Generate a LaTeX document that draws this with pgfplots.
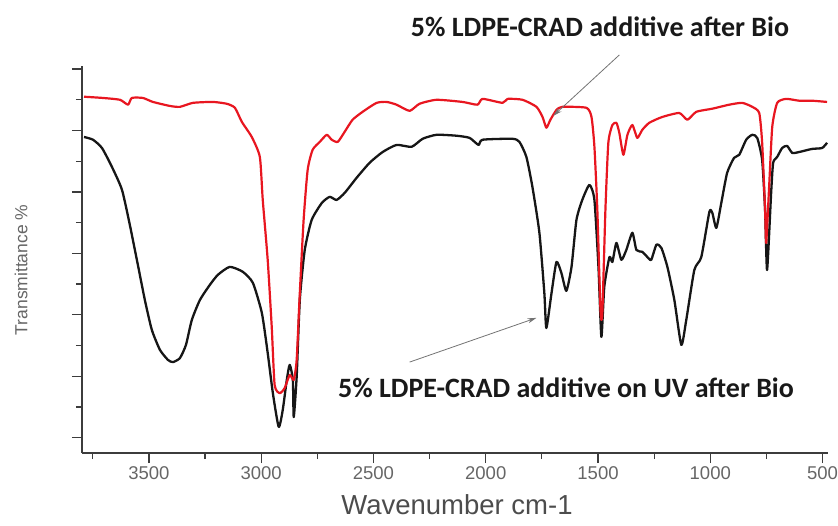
\documentclass[border=0pt]{standalone}
\usepackage{fontspec}
\setmainfont{Liberation Sans}
\newfontfamily\carlito{Carlito}
\usepackage{pgfplots}
\pgfplotsset{compat=1.18}
\usetikzlibrary{arrows.meta}
\definecolor{specred}{RGB}{232,22,32}
\definecolor{specblack}{RGB}{22,22,22}
\definecolor{axgray}{RGB}{60,60,60}
\begin{document}
\begin{tikzpicture}
\useasboundingbox (0pt,0pt) rectangle (838pt,-525pt);
\begin{axis}[
  at={(82pt,-453pt)}, anchor=south west,
  scale only axis, width=745.5pt, height=387pt,
  xmin=478, xmax=3798, ymin=0, ymax=126, x dir=reverse,
  axis x line=bottom, axis y line=left,
  axis line style={-, line width=1.4pt, color=axgray},
  xtick={500,1000,...,3500}, minor xtick={750,1250,...,3750},
  ytick={5,25,...,125}, yticklabels={}, minor ytick={15,35,...,115},
  tick align=outside,
  every tick/.style={line width=1.2pt, color=axgray},
  x tick style={line width=1.2pt, color=axgray},
  y tick style={line width=1.2pt, color=axgray},
  major tick length=10pt, minor tick length=6pt,
  /pgf/number format/assume math mode=true,
  /pgf/number format/1000 sep={},
  xticklabel style={font=\fontsize{18.5}{18.5}\selectfont, text=black!60},
  clip=false,
]
\addplot[specblack, line width=2.3pt, line join=round, smooth, tension=0.35] coordinates {
(3789,102.9) (3749,102.0) (3709,99.3) (3665,93.2) (3620,85.7) (3585,74.3)
(3549,61.2) (3518,49.8) (3487,40.1) (3451,33.6) (3415,30.3) (3393,29.6)
(3362,30.9) (3335,35.2) (3309,43.3) (3273,49.8) (3229,54.7) (3193,58.0)
(3140,60.6) (3082,59.0) (3037,55.4) (2997,45.6) (2971,32.6) (2948,19.5)
(2922,8.5) (2904,14.0) (2886,23.8) (2873,28.7) (2859,23.8) (2855,11.7)
(2842,24.8) (2828,49.8) (2806,66.1) (2775,75.9) (2730,81.4) (2695,83.4)
(2664,82.4) (2628,84.7) (2575,89.6) (2517,94.5) (2459,98.0) (2397,100.3)
(2330,99.7) (2281,102.3) (2219,103.6) (2130,103.3) (2072,102.6) (2032,100.3)
(2014,102.0) (1881,102.3) (1850,101.3) (1819,96.4) (1792,86.6) (1761,71.7)
(1739,52.1) (1730,40.7) (1707,52.1) (1685,62.2) (1663,58.6) (1641,52.8)
(1618,60.6) (1596,75.9) (1570,82.4) (1538,87.3) (1516,82.4) (1498,60.6)
(1485,37.8) (1472,54.1) (1449,63.8) (1436,62.2) (1418,68.4) (1396,62.9)
(1374,66.1) (1347,71.7) (1329,66.1) (1303,65.5) (1280,63.8) (1263,62.9)
(1240,67.8) (1218,66.8) (1191,60.6) (1160,49.8) (1129,35.2) (1107,43.3)
(1071,59.6) (1040,63.8) (1004,78.5) (991,78.2) (973,73.3) (951,81.4)
(925,91.2) (894,96.1) (871,97.1) (840,102.0) (813,103.6) (791,102.6)
(769,95.4) (756,79.2) (747,59.6) (729,84.7) (720,94.5) (702,96.4)
(680,99.3) (658,100.0) (635,97.7) (604,98.0) (547,99.0) (502,99.3) (480,101.0)
};
\addplot[specred, line width=2.2pt, line join=round, smooth, tension=0.35] coordinates {
(3789,116.0) (3705,115.6) (3629,115.0) (3593,113.4) (3576,115.6) (3527,115.6)
(3482,114.3) (3407,113.0) (3362,112.7) (3304,114.0) (3215,114.3) (3153,113.7)
(3117,112.4) (3086,107.8) (3042,102.9) (3006,96.4) (2993,82.4) (2971,62.9)
(2953,41.0) (2940,22.1) (2917,19.5) (2895,21.2) (2873,25.4) (2855,23.8)
(2842,30.3) (2828,52.1) (2811,75.9) (2793,92.2) (2771,98.7) (2739,101.3)
(2708,103.6) (2686,102.0) (2659,101.3) (2628,104.6) (2593,108.5) (2548,111.1)
(2486,114.0) (2441,114.3) (2397,113.4) (2339,111.4) (2295,113.7) (2219,115.0)
(2103,114.3) (2037,113.4) (2014,115.3) (1925,114.0) (1903,115.3) (1836,115.0)
(1774,112.7) (1747,109.4) (1730,105.9) (1712,108.5) (1685,111.7) (1659,112.7)
(1552,112.4) (1529,109.4) (1516,99.7) (1503,79.2) (1489,46.6) (1481,45.0)
(1467,79.2) (1454,101.0) (1436,106.8) (1418,107.5) (1405,104.2) (1387,97.1)
(1369,103.6) (1347,106.8) (1325,102.6) (1303,105.2) (1272,107.5) (1214,109.4)
(1138,110.7) (1102,108.5) (1062,111.1) (991,112.1) (916,113.4) (858,114.0)
(813,112.7) (782,110.7) (769,101.0) (756,79.2) (751,68.4) (738,86.6)
(724,106.2) (702,114.0) (662,115.3) (604,114.7) (547,114.7) (480,114.3)
};
\draw[black!55, line width=0.8pt, -{Stealth[length=9pt,width=5pt]}] (axis cs:1405,129.6) -- (axis cs:1699,109.8);
\draw[black!55, line width=0.8pt, -{Stealth[length=9pt,width=5pt]}] (axis cs:2339,29.6) -- (axis cs:1774,44.0);
\end{axis}
\node[font=\carlito\bfseries\fontsize{28}{28}\selectfont, text=black!90] at (600pt,-27pt) {5\% LDPE-CRAD additive after Bio};
\node[font=\carlito\bfseries\fontsize{28}{28}\selectfont, text=black!90] at (566pt,-388pt) {5\% LDPE-CRAD additive on UV after Bio};
\node[font=\fontsize{27.5}{27.5}\selectfont, text=black!70] at (457pt,-505pt) {Wavenumber cm-1};
\node[font=\fontsize{17.5}{17.5}\selectfont, text=black!60, rotate=90] at (21pt,-270pt) {Transmittance \%};
\end{tikzpicture}
\end{document}
